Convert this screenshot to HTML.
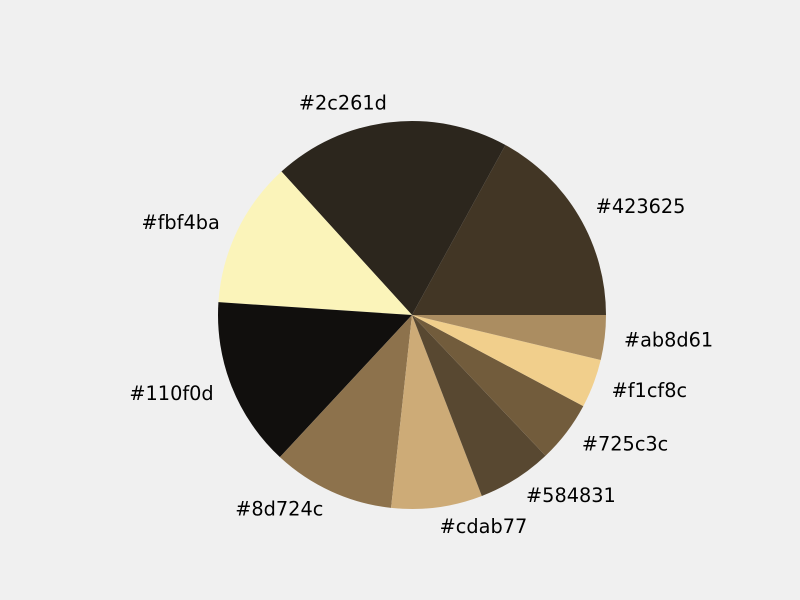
<!DOCTYPE html>
<html><head><meta charset="utf-8"><style>
body{margin:0;background:#f0f0f0;}
svg{display:block;}
text{font-family:"DejaVu Sans","Liberation Sans",sans-serif;font-size:19.3px;fill:#000;}
</style></head><body>
<svg id="chart" width="800" height="600"></svg>
<script>
const labels=["#423625","#2c261d","#fbf4ba","#110f0d","#8d724c","#cdab77","#584831","#725c3c","#f1cf8c","#ab8d61"];
const values=[61.2,71.1,43.9,50.9,36.7,27.3,22.4,18.5,14.6,13.4];
const colors=["#423625","#2c261d","#fbf4ba","#110f0d","#8d724c","#cdab77","#584831","#725c3c","#f1cf8c","#ab8d61"];
const svg=document.getElementById('chart');
const NS='http://www.w3.org/2000/svg';
const cx=412,cy=315,r=194;
const total=values.reduce((a,b)=>a+b,0);
let a0=0;
values.forEach((v,i)=>{
  const a1=a0+v/total*2*Math.PI;
  const x0=cx+r*Math.cos(a0),y0=cy-r*Math.sin(a0);
  const x1=cx+r*Math.cos(a1),y1=cy-r*Math.sin(a1);
  const large=(a1-a0)>Math.PI?1:0;
  const p=document.createElementNS(NS,'path');
  p.setAttribute('d',`M${cx},${cy} L${x0},${y0} A${r},${r} 0 ${large} 0 ${x1},${y1} Z`);
  p.setAttribute('fill',colors[i]);
  
  
  svg.appendChild(p);
  const am=(a0+a1)/2;
  const lx=cx+1.1*r*Math.cos(am),ly=cy-1.1*r*Math.sin(am);
  const t=document.createElementNS(NS,'text');
  t.setAttribute('x',lx);t.setAttribute('y',ly);
  t.setAttribute('dominant-baseline','central');
  t.setAttribute('text-anchor',Math.cos(am)>=0?'start':'end');
  t.textContent=labels[i];
  
  
  svg.appendChild(t);
  a0=a1;
});
</script>
</body></html>
